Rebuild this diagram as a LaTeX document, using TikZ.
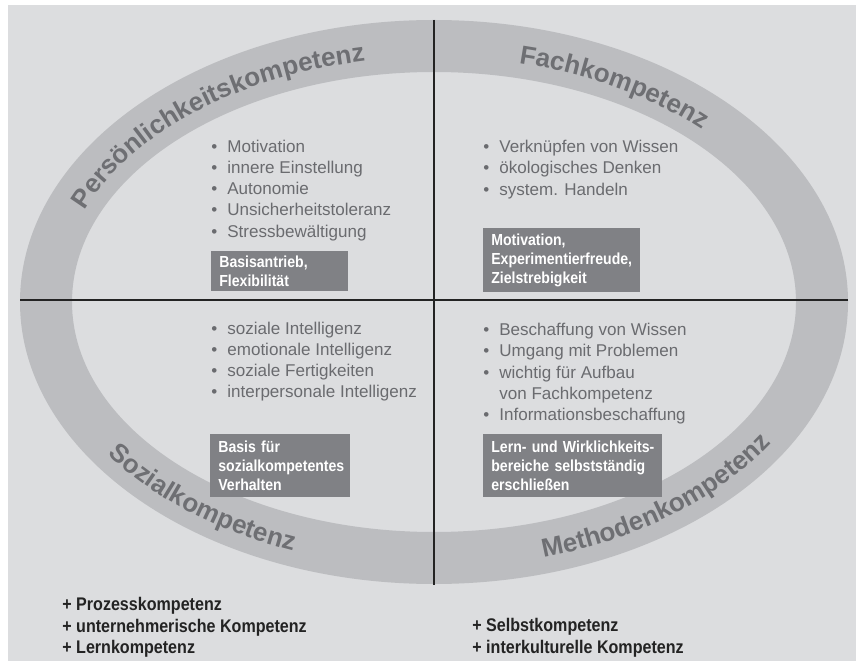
\documentclass[tikz,border=0pt]{standalone}
\usepackage{fontspec}
\setmainfont{Liberation Sans}
\newfontfamily\condfont{Liberation Sans}[FakeStretch=0.88]
\usetikzlibrary{positioning,decorations.text}
\definecolor{bggray}{RGB}{220,221,223}
\definecolor{ringgray}{RGB}{188,189,192}
\definecolor{txtgray}{RGB}{106,107,111}
\definecolor{boxgray}{RGB}{128,129,133}
\definecolor{lblgray}{RGB}{110,111,115}
\definecolor{linegray}{RGB}{35,35,35}
\tikzstyle{lst}=[anchor=north west, inner sep=0pt, align=left, text=txtgray, font=\fontsize{9.7}{12.1}\selectfont]
\tikzstyle{box}=[anchor=north west, fill=boxgray, text=white, inner xsep=1.6mm, inner ysep=0pt, align=left, font=\condfont\bfseries\fontsize{9.1}{11}\selectfont]
\tikzstyle{plus}=[anchor=north west, inner sep=0pt, align=left, text=linegray, font=\condfont\bfseries\fontsize{10.4}{12.3}\selectfont]
\tikzstyle{sep}=[draw=linegray, line width=0.26mm]
\tikzstyle{ringlbl}=[decorate]
\newcommand{\ringfont}{\color{lblgray}\fontsize{14.8}{16}\selectfont\bfseries}
\newcommand{\blt}{\makebox[3.2mm][l]{•}}

\begin{document}
\begin{tikzpicture}[x=0.2mm,y=0.2mm]
\useasboundingbox (0,0) rectangle (856,-661);
\fill[bggray] (8,-5) rectangle (856,-661);

\coordinate (c) at (434,-302);
\fill[ringgray, even odd rule] (c) ellipse [x radius=414, y radius=282]
                               (c) ellipse [x radius=362, y radius=230];

\coordinate (top) at (434,-20);
\coordinate (bot) at (434,-585);
\coordinate (lft) at (20,-300);
\coordinate (rgt) at (848,-300);
\draw[sep] (top) -- (bot);
\draw[sep] (lft) -- (rgt);

% ring labels
\path[ringlbl, decoration={text along path, text={|\ringfont|Persönlichkeitskompetenz}}]
  (c) ++(158:377 and 245) arc [start angle=158, end angle=50, x radius=377, y radius=245];
\path[ringlbl, decoration={text along path, text={|\ringfont|Fachkompetenz}}]
  (c) ++(77:377 and 245) arc [start angle=77, end angle=0, x radius=377, y radius=245];
\path[ringlbl, decoration={text along path, text={|\ringfont|Sozialkompetenz}}]
  (c) ++(215:398 and 266) arc [start angle=215, end angle=300, x radius=398, y radius=266];
\path[ringlbl, decoration={text along path, text={|\ringfont|Methodenkompetenz}}]
  (c) ++(286:398 and 266) arc [start angle=286, end angle=370, x radius=398, y radius=266];

% lists
\node (pers) [lst] at (211,-139.5) {\blt Motivation\\ \blt innere Einstellung\\ \blt Autonomie\\
  \blt Unsicherheitstoleranz\\ \blt Stressbewältigung};
\node (fach) [lst] at (483,-140) {\blt Verknüpfen von Wissen\\ \blt ökologisches Denken\\
  \blt system. Handeln};
\node (soz) [lst] at (211,-321.5) {\blt soziale Intelligenz\\ \blt emotionale Intelligenz\\
  \blt soziale Fertigkeiten\\ \blt interpersonale Intelligenz};
\node (meth) [lst] at (483,-323) {\blt Beschaffung von Wissen\\ \blt Umgang mit Problemen\\
  \blt wichtig für Aufbau\\ \hspace*{3.2mm}von Fachkompetenz\\ \blt Informationsbeschaffung};

% boxes
\node (persbox) [box, minimum width=27.4mm, minimum height=8mm, text width=24.2mm] at (211,-251)
  {Basisantrieb,\\ Flexibilität};
\node (fachbox) [box, minimum width=31.4mm, minimum height=12.8mm, text width=28.2mm] at (483,-228)
  {Motivation,\\ Experimentierfreude,\\ Zielstrebigkeit};
\node (sozbox) [box, minimum width=28mm, minimum height=12.6mm, text width=24.8mm] at (210,-434)
  {Basis für\\ sozialkompetentes\\ Verhalten};
\node (methbox) [box, minimum width=35.8mm, minimum height=12.6mm, text width=32.6mm] at (483,-434)
  {\mbox{Lern- und Wirklichkeits-}\\ \mbox{bereiche selbstständig}\\ erschließen};

% further competences
\node (plusl) [plus] at (62,-597) {+ Prozesskompetenz\\ + unternehmerische Kompetenz\\ + Lernkompetenz};
\node (plusr) [plus] at (472,-618) {+ Selbstkompetenz\\ + interkulturelle Kompetenz};
\end{tikzpicture}
\end{document}
